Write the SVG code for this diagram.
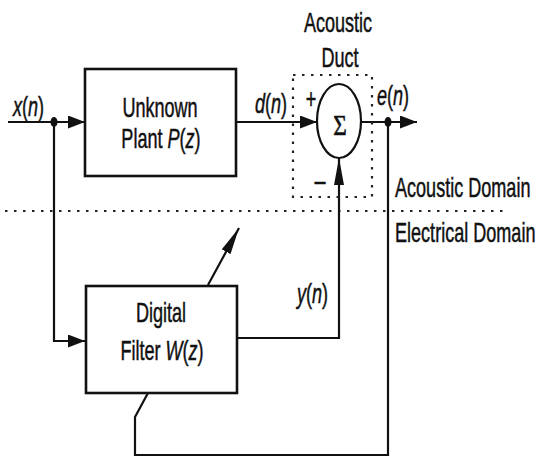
<svg xmlns="http://www.w3.org/2000/svg" width="539" height="458" viewBox="0 0 539 458">
<style>
.box{fill:#fff;stroke:#111;stroke-width:2.6}
.ln{fill:none;stroke:#111;stroke-width:2.2}
.dot{fill:none;stroke:#222;stroke-width:2.2;stroke-dasharray:2.5 6.5}
.t{font-family:"Liberation Sans",Arial,sans-serif;font-size:28px;fill:#111;stroke:#111;stroke-width:0.5}
.i{font-style:italic}
.m{text-anchor:middle}
.sig{font-family:"Liberation Serif","Times New Roman",serif;font-size:29px;fill:#111;stroke:#111;stroke-width:0.6;text-anchor:middle}
</style>
<defs>
<marker id="ah" markerUnits="userSpaceOnUse" markerWidth="17" markerHeight="13" refX="17" refY="6.5" orient="auto">
<path d="M0,0 L17,6.5 L0,13 z" fill="#111"/>
</marker>
<marker id="av" markerUnits="userSpaceOnUse" markerWidth="27" markerHeight="10" refX="27" refY="5" orient="auto">
<path d="M0,0 L27,5 L0,10 z" fill="#111"/>
</marker>
</defs>
<rect width="539" height="458" fill="#fff"/>

<g id="domain-divider">
<line class="dot" x1="5" y1="211" x2="505" y2="211"/>
<text class="t" transform="translate(395,197) scale(0.645,1)">Acoustic Domain</text>
<text class="t" transform="translate(395,242) scale(0.645,1)">Electrical Domain</text>
</g>

<g id="connectors">
<line class="ln" x1="8" y1="122" x2="85" y2="122" stroke-width="3" marker-end="url(#ah)"/>
<polyline class="ln" points="54,122 54,341 85,341" marker-end="url(#ah)"/>
<line class="ln" x1="237" y1="122" x2="317" y2="122" marker-end="url(#ah)"/>
<line class="ln" x1="361" y1="122" x2="417" y2="122" marker-end="url(#ah)"/>
<polyline class="ln" points="237,338 339,338 339,158" marker-end="url(#av)"/>
<polyline class="ln" points="388,122 388,455 135,455 135,417 148,393"/>
<line class="ln" x1="208" y1="285" x2="239" y2="228" marker-end="url(#av)"/>
<ellipse cx="54" cy="122" rx="3.5" ry="5" fill="#111"/>
<ellipse cx="388" cy="122" rx="3.5" ry="5" fill="#111"/>
<text class="t" transform="translate(13,116) scale(0.645,1)"><tspan class="i">x</tspan>(<tspan class="i">n</tspan>)</text>
<text class="t" transform="translate(255,113) scale(0.645,1)"><tspan class="i">d</tspan>(<tspan class="i">n</tspan>)</text>
<text class="t" transform="translate(377,105) scale(0.645,1)"><tspan class="i">e</tspan>(<tspan class="i">n</tspan>)</text>
<text class="t" transform="translate(297,303) scale(0.645,1)"><tspan class="i">y</tspan>(<tspan class="i">n</tspan>)</text>
</g>

<g id="acoustic-duct">
<rect class="dot" x="293" y="75" width="79" height="122"/>
<text class="t m" transform="translate(338,32) scale(0.645,1)">Acoustic</text>
<text class="t m" transform="translate(340,67) scale(0.645,1)">Duct</text>
</g>

<g id="plant">
<rect class="box" x="85" y="69" width="151" height="107"/>
<text class="t m" transform="translate(160,117) scale(0.645,1)">Unknown</text>
<text class="t m" transform="translate(161,148) scale(0.645,1)">Plant <tspan class="i">P</tspan>(<tspan class="i">z</tspan>)</text>
</g>

<g id="sum">
<ellipse cx="339" cy="121" rx="22" ry="37" fill="#fff" stroke="#111" stroke-width="2.2"/>
<text class="sig" transform="translate(340,135) scale(0.8,1)">Σ</text>
<text class="t m" transform="translate(311,108) scale(0.645,1)">+</text>
<text class="t m" transform="translate(320,192) scale(0.8,1)">−</text>
</g>

<g id="filter">
<rect class="box" x="86" y="286" width="151" height="107"/>
<text class="t m" transform="translate(161,322) scale(0.645,1)">Digital</text>
<text class="t m" transform="translate(162,360) scale(0.645,1)">Filter <tspan class="i">W</tspan>(<tspan class="i">z</tspan>)</text>
</g>
</svg>
